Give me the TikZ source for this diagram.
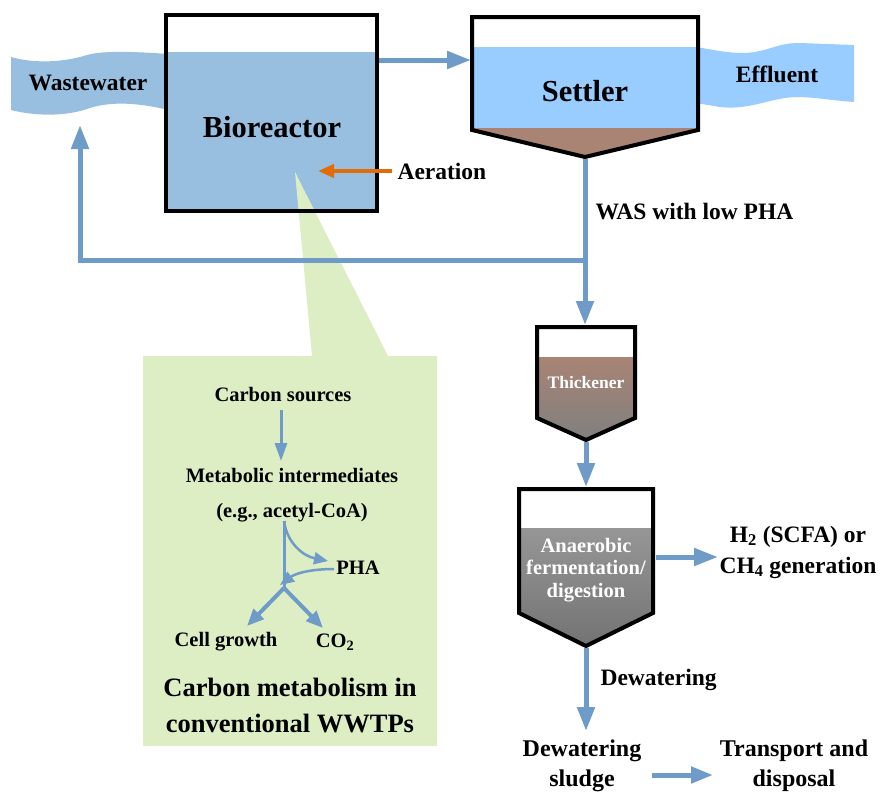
\documentclass[tikz,border=0pt]{standalone}
\usepackage{fontspec}
\setmainfont{Liberation Serif}
\usetikzlibrary{arrows.meta,positioning}
\definecolor{flowblue}{RGB}{111,155,200}
\definecolor{biofill}{RGB}{152,190,224}
\definecolor{setfill}{RGB}{153,204,255}
\definecolor{sludge}{RGB}{169,132,116}
\definecolor{aerorange}{RGB}{226,108,10}
\definecolor{calloutgreen}{RGB}{221,238,197}
\begin{document}
\begin{tikzpicture}[x=1pt,y=-1pt,line join=round,font=\bfseries,
	flow/.style={draw=flowblue,line width=5pt,-{Stealth[inset=0pt,length=24pt,width=17pt]}},
	metab/.style={draw=flowblue,line width=3pt,-{Stealth[inset=0pt,length=18pt,width=12pt]}},
	curved/.style={draw=flowblue,line width=2.5pt,-{Stealth[inset=0pt,length=14pt,width=12pt]}},
	tank/.style={draw=black,line width=4pt,line join=miter},
	big/.style={font=\bfseries\fontsize{30.5}{36}\selectfont},
	lbl/.style={font=\bfseries\fontsize{23.5}{31}\selectfont,align=center},
	small/.style={font=\bfseries\fontsize{20.5}{35}\selectfont,align=center},
	inside/.style={text=white,font=\bfseries\fontsize{20.5}{22.5}\selectfont,align=center}]
	\useasboundingbox (0,0) rectangle (884,798);
	% wastewater and effluent streams
	\fill[biofill] (11,57) .. controls (35,64) and (65,62) .. (87,55)
		.. controls (105,50) and (140,52) .. (168,54) -- (168,110)
		.. controls (140,103) and (112,101) .. (90,108)
		.. controls (65,117) and (35,116) .. (11,110) -- cycle;
	\node[lbl] (ww) at (88,83) {Wastewater};
	\fill[setfill] (696,47) .. controls (715,50) and (735,55) .. (755,52)
		.. controls (775,48) and (780,43) .. (800,43) -- (854,45) -- (854,102)
		.. controls (825,100) and (805,95) .. (785,98)
		.. controls (765,101) and (745,110) .. (720,107) -- (696,103) -- cycle;
	\node[lbl] (eff) at (777,74) {Effluent};
	% bioreactor
	\fill[biofill] (166,52) rectangle (377,211);
	\fill[calloutgreen] (295,172) -- (388,356) -- (437,356) -- (437,746)
		-- (143,746) -- (143,356) -- (312,356) -- cycle;
	\draw[tank] (166,15) rectangle (377,211);
	\node[big] (bio) at (272,127) {Bioreactor};
	\coordinate (air) at (392,171);
	\coordinate (air end) at (318,171);
	\draw[draw=aerorange,line width=4pt,-{Stealth[inset=0pt,length=16pt,width=13pt]}] (air) -- (air end);
	\node[lbl,anchor=west] (aer) at (394,171) {Aeration};
	% settler
	\begin{scope}
		\clip (472,17) -- (698,17) -- (698,130) -- (585,157) -- (472,130) -- cycle;
		\fill[setfill] (470,47) rectangle (700,128);
		\fill[sludge] (470,128) rectangle (700,160);
	\end{scope}
	\draw[tank] (472,17) -- (698,17) -- (698,130) -- (585,157) -- (472,130) -- cycle;
	\node[big] (set) at (585,91) {Settler};
	\coordinate (bio out) at (379,60);
	\coordinate (set in) at (471,60);
	\draw[flow] (bio out) -- (set in);
	% waste sludge and return line
	\coordinate (set out) at (585,159);
	\coordinate (split) at (585,260);
	\coordinate (thk in) at (585,325);
	\coordinate (ww ret) at (80,125);
	\draw[flow] (set out) -- (thk in);
	\draw[flow,line join=miter] (split) -| (ww ret);
	\node[lbl,anchor=west] (was) at (592,212) {WAS with low PHA};
	% thickener
	\shade[top color=sludge,bottom color=gray] (537,357) -- (635,357) -- (635,418) -- (586,440) -- (537,418) -- cycle;
	\draw[tank] (537,327) -- (635,327) -- (635,418) -- (586,440) -- (537,418) -- cycle;
	\node[inside,font=\bfseries\fontsize{17.5}{20}\selectfont] (thk) at (586,383) {Thickener};
	\coordinate (thk out) at (586,442);
	\coordinate (dig in) at (586,487);
	\draw[flow] (thk out) -- (dig in);
	% anaerobic digester
	\shade[top color={rgb,255:red,150;green,150;blue,150},bottom color={rgb,255:red,115;green,115;blue,115}]
		(519,528) -- (653,528) -- (653,613) -- (586,646) -- (519,613) -- cycle;
	\draw[tank] (519,489) -- (653,489) -- (653,613) -- (586,646) -- (519,613) -- cycle;
	\node[inside] (dig) at (586,570) {Anaerobic\\fermentation/\\digestion};
	\node[lbl] (gas) at (798,552) {H\textsubscript{2} (SCFA) or\\CH\textsubscript{4} generation};
	\coordinate (dig side) at (656,557);
	\coordinate (gas in) at (718,557);
	\draw[flow] (dig side) -- (gas in);
	\coordinate (dig out) at (586,648);
	\coordinate (cake) at (586,731);
	\draw[flow] (dig out) -- (cake);
	\node[lbl,anchor=west] (dew) at (597,680) {Dewatering};
	\node[lbl,font=\bfseries\fontsize{24}{30}\selectfont] (sludge) at (582,766) {Dewatering\\sludge};
	\node[lbl,font=\bfseries\fontsize{24}{30}\selectfont] (disp) at (794,766) {Transport and\\disposal};
	\coordinate (sl out) at (652,775);
	\coordinate (disp in) at (713,775);
	\draw[flow,-{Stealth[inset=0pt,length=22pt,width=16pt]}] (sl out) -- (disp in);
	% carbon metabolism callout
	\node[small] (cs) at (283,395) {Carbon sources};
	\node[small] (mi) at (292,495) {Metabolic intermediates\\(e.g., acetyl-CoA)};
	\coordinate (cs out) at (281,410);
	\coordinate (mi in) at (281,461);
	\draw[metab] (cs out) -- (mi in);
	\coordinate (branch) at (284,521);
	\coordinate (hub) at (284,588);
	\draw[draw=flowblue,line width=3pt] (branch) -- (hub);
	\node[small] (pha) at (358,568) {PHA};
	\coordinate (pha in) at (328,561);
	\coordinate (pha out) at (334,569);
	\coordinate (pha back) at (280,585);
	\draw[curved] (branch) .. controls (287,543) and (303,556) .. (pha in);
	\draw[curved] (pha out) .. controls (312,569) and (296,573) .. (pha back);
	\node[small] (cell) at (226,642) {Cell growth};
	\node[small] (co2) at (335,642) {CO\textsubscript{2}};
	\coordinate (cell in) at (247,626);
	\coordinate (co2 in) at (323,628);
	\draw[metab,line width=4pt,-{Stealth[inset=0pt,length=17pt,width=14pt]}] (hub) -- (cell in);
	\draw[metab,line width=4pt,-{Stealth[inset=0pt,length=17pt,width=14pt]}] (hub) -- (co2 in);
	\node[lbl,font=\bfseries\fontsize{26.5}{36}\selectfont] (title) at (290,705) {Carbon metabolism in\\conventional WWTPs};
\end{tikzpicture}
\end{document}
